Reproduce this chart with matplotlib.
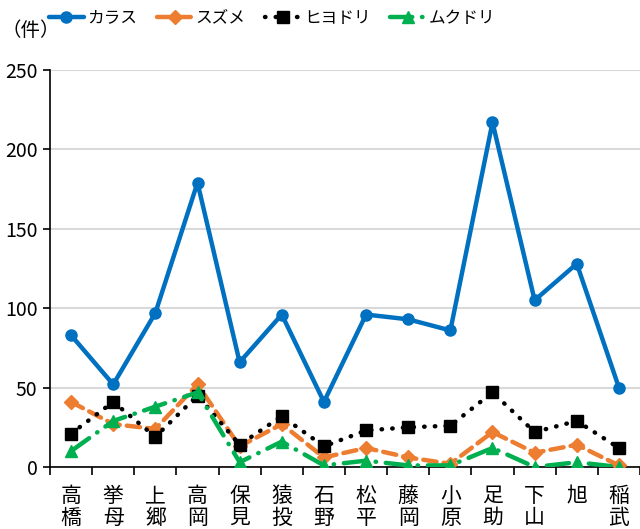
import numpy as np
import matplotlib
matplotlib.use("Agg")
import matplotlib.pyplot as plt

plt.rcParams['font.family'] = ['Noto Sans CJK JP', 'DejaVu Sans']

# data
areas = ["高橋", "挙母", "上郷", "高岡", "保見", "猿投", "石野",
         "松平", "藤岡", "小原", "足助", "下山", "旭", "稲武"]
karasu = [83, 52, 97, 179, 66, 96, 41, 96, 93, 86, 217, 105, 128, 50]
suzume = [41, 27, 24, 52, 13, 27, 6, 12, 6, 2, 22, 9, 14, 1]
hiyodori = [21, 41, 19, 45, 14, 32, 13, 23, 25, 26, 47, 22, 29, 12]
mukudori = [10, 29, 38, 47, 3, 16, 1, 4, 1, 1, 12, 0, 3, 0]

blue = "#0070c0"
orange = "#ed7d31"
green = "#00b050"

fig = plt.figure(figsize=(6.4, 5.29), dpi=100)
ax = fig.add_axes([50 / 640, 62 / 529, 590 / 640, 397 / 529])

x = np.arange(len(areas))
ax.plot(x, karasu, color=blue, lw=3.2, marker="o", ms=8, label="カラス",
        solid_capstyle="round", zorder=3)
ax.plot(x, suzume, color=orange, lw=3.2, marker="D", ms=7, label="スズメ",
        dashes=(3, 1.6), dash_capstyle="round", zorder=3)
ax.plot(x, hiyodori, color="black", lw=3.2, marker="s", ms=9, label="ヒヨドリ",
        dashes=(0.1, 2.3), dash_capstyle="round", zorder=3)
ax.plot(x, mukudori, color=green, lw=3.2, marker="^", ms=9, label="ムクドリ",
        dashes=(5, 2.2, 0.1, 2.2), dash_capstyle="round", zorder=3)

ax.set_xlim(-0.5, len(areas) - 0.5)
ax.set_ylim(0, 250)
ax.set_yticks(range(0, 251, 50))
ax.yaxis.grid(True, color="#d9d9d9", lw=1.5)
ax.set_axisbelow(True)

# category labels stacked vertically, ticks between categories
ax.set_xticks(x)
ax.set_xticklabels(["\n".join(a) for a in areas], fontsize=15, linespacing=1.0)
ax.set_xticks(np.arange(-0.5, len(areas), 1), minor=True)
ax.tick_params(axis="x", which="major", length=0, pad=13)
ax.tick_params(axis="x", which="minor", length=6, width=1.2, direction="out")
ax.tick_params(axis="y", length=5, width=1.2, labelsize=14, pad=4)

for s in ["top", "right"]:
    ax.spines[s].set_visible(False)
ax.spines["left"].set_linewidth(1.2)
ax.spines["bottom"].set_linewidth(1.2)

fig.text(0.002, 1 - 30 / 529, "（件）", fontsize=14, va="center", ha="left")
fig.legend(loc="center", bbox_to_anchor=(272 / 640, 1 - 18 / 529), ncol=4,
           frameon=False, fontsize=12, handlelength=2.1, handletextpad=0.2,
           columnspacing=1.2, borderaxespad=0, borderpad=0)

fig.savefig("out.png", dpi=100)
